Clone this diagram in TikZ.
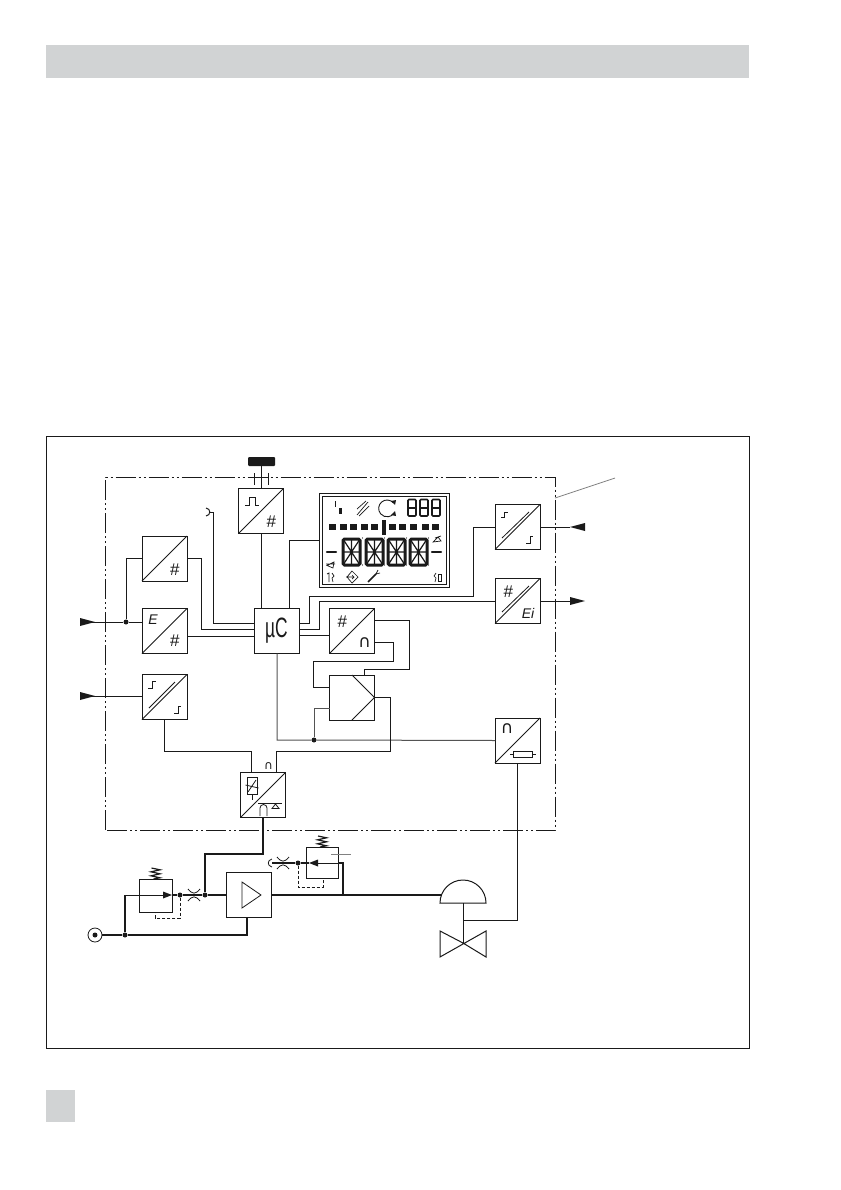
\documentclass[tikz,border=0pt]{standalone}
\usepackage{fontspec}
\setmainfont{Liberation Sans}
\newfontfamily\symf{DejaVu Sans}
\newfontfamily\narrowf[FakeStretch=0.62]{Liberation Sans}
\usetikzlibrary{calc}
\definecolor{band}{HTML}{D1D3D4}
\definecolor{ink}{HTML}{1A1A1A}
\tikzset{
  x=1pt,y=-1pt,
  box/.style={draw=ink,line width=1pt,fill=white,inner sep=0pt,outer sep=0pt,minimum width=45pt,minimum height=45pt},
  wire/.style={draw=ink,line width=1pt},
  greywire/.style={draw=ink!75,line width=1pt},
  thickwire/.style={draw=ink,line width=2.3pt},
  medwire/.style={draw=ink,line width=1.5pt},
  thinl/.style={draw=ink,line width=.8pt},
  pilot/.style={draw=ink,line width=.9pt,dash pattern=on 3pt off 2pt},
  leader/.style={draw=ink!55,line width=.8pt},
  frameline/.style={draw=ink,line width=1pt,dash pattern=on 20pt off 3pt on 2pt off 3pt on 2pt off 3pt},
  junction/.style={circle,fill=ink,inner sep=0pt,minimum size=5pt},
  glyph/.style={inner sep=0pt,text=ink,font=\itshape\fontsize{14}{14}\selectfont},
  hashg/.style={inner sep=0pt,text=ink,font=\itshape\fontsize{17}{17}\selectfont},
  capg/.style={inner sep=0pt,text=ink,font=\symf\fontsize{17}{17}\selectfont},
  tipfill/.style={fill=ink},
  lcdthick/.style={draw=ink,line width=3pt,rounded corners=1.5pt},
  lcdseg/.style={draw=ink,line width=1.2pt},
  lcdicon/.style={draw=ink,line width=.7pt},
  restrictor/.pic={
    \draw[thinl] (-6,-6) .. controls (-1.5,-0.5) and (1.5,-0.5) .. (6,-6);
    \draw[thinl] (-6,6) .. controls (-1.5,0.5) and (1.5,0.5) .. (6,6);
  },
  springzig/.pic={
    \draw[line width=1.2pt,draw=ink] (-2,0) -- (4.5,-1.2) -- (-4.5,-3.2) -- (4.5,-5.2) -- (-4.5,-7.2) -- (4.5,-9.2) -- (-4,-11);
  },
}
\begin{document}
\begin{tikzpicture}
\useasboundingbox (0,0) rectangle (840,1190);
\fill[white] (0,0) rectangle (840,1190);
\fill[band] (46,45) rectangle (749,78);
\fill[band] (46,1090) rectangle (75,1122);
\draw[draw=ink,line width=.9pt] (46.5,436.5) rectangle (749,1048);
\draw[frameline] (105.5,830) -- (105.5,477) -- (555,477) -- (555,830) -- cycle;

% converter boxes
\node[box] (top) at (261,511) {};
\node[box] (boxA) at (164.5,558.5) {};
\node[box] (boxE) at (164.5,631) {};
\node[box] (stepL) at (164.5,697) {};
\node[box] (mu) at (276.5,631) {};
\node[box] (dac) at (352,631) {};
\node[box] (amp) at (352,697.5) {};
\node[box] (stepR) at (517.5,527) {};
\node[box] (ei) at (517.5,601) {};
\node[box] (ip) at (517.5,740.5) {};
\node[box] (relay) at (263,795) {};
\node[box] (big) at (248.5,895) {};
\node[box,minimum width=33pt,minimum height=33pt] (regL) at (155.5,895.5) {};
\node[box,minimum width=32pt,minimum height=31pt] (regR) at (322,862.5) {};
\node[draw=ink,line width=1pt,fill=white,inner sep=0pt,outer sep=0pt,minimum width=130pt,minimum height=94pt] (lcd) at (384,540) {};
\node[draw=ink,line width=1pt,inner sep=0pt,outer sep=0pt,minimum width=124pt,minimum height=88pt] (lcdin) at (384,540) {};

% diagonals
\foreach \b in {top,boxA,boxE,stepL,dac,stepR,ei,ip,relay}
  \draw[wire] (\b.south west) -- (\b.north east);
\draw[thinl] (149,708) -- (175,682);
\draw[thinl] (502,612) -- (529,586);
\draw[thinl] (502,538) -- (529,512);

% labels
\node[hashg] (l1) at (271,522) {\#};
\node[hashg] (l2) at (174.5,570) {\#};
\node[hashg] (l3) at (174.5,641) {\#};
\node[glyph] (l4) at (153,620) {E};
\node[inner sep=0pt,text=ink,font=\narrowf\fontsize{28}{28}\selectfont] (l5) at (276.5,631) {µC};
\node[hashg] (l6) at (342,622) {\#};
\node[capg] (l7) at (364.5,643) {∩};
\node[hashg] (l8) at (508,592) {\#};
\node[glyph] (l9) at (528,613) {Ei};
\node[capg] (l10) at (507,729) {∩};
\node[capg,font=\symf\fontsize{12}{12}\selectfont] (l11) at (268.5,766) {∩};

% symbols in boxes
\draw[thinl] (245,505) -- (249,505) -- (249,497) -- (255,497) -- (255,505) -- (259,505);
\draw[thinl] (148,688) -- (152,688) -- (152,681) -- (156,681);
\draw[thinl] (174,713.5) -- (178,713.5) -- (178,706) -- (181,706);
\draw[thinl] (501,517) -- (504,517) -- (504,512) -- (508,512);
\draw[thinl] (526,543) -- (530,543) -- (530,536) -- (533,536);
\draw[thinl] (513,751) rectangle (532,757);
\draw[thinl] (510,754) -- (513,754) (532,754) -- (536,754);
% amplifier chevrons
\draw[wire] (352,675) -- (amp.east) -- (352,720);
\draw[thinl] (242,882) -- (261,895) -- (242,908) -- cycle;
% relay symbols
\draw[thinl] (247,777) rectangle (257,794);
\draw[thinl] (245.5,785) -- (258.5,788) (248,792) -- (256,780);
\draw[thinl] (252,794) -- (252,800);
\draw[thinl] (258,803) -- (282,803);
\draw[thinl] (260,816) -- (260,808) arc[start angle=180,end angle=360,x radius=3.5,y radius=3.5] -- (267,816);
\draw[thinl] (272,808.5) -- (279,808.5) -- (275.5,804) -- cycle;

% top knob
\fill[ink,rounded corners=1pt] (248,457) rectangle (275,466);
\coordinate (knob) at (261,466);
\draw[wire] (knob) -- (top.north);
\draw[wire] (254,473) -- (254,485) (268,473) -- (268,485);

% wires
\draw[wire] (top.south) -- (mu.north -| top.south);
\draw[wire] (lcd.west |- 0,540.5) -| (289.5,609);
\draw[wire] (210,512) -- (213.5,512) |- (mu.west |- 0,623);
\draw[wire] (206,508) .. controls (211,508.5) and (211,515.5) .. (206,516);
\node[junction] (j1) at (126,622) {};
\coordinate (inA) at (80,622);
\coordinate (inB) at (80,696);
\draw[wire] (inA) -- (j1) -- (boxE.west |- j1);
\draw[wire] (j1) |- (boxA.west);
\draw[wire] (boxA.east) -| (201,629) -- (mu.west |- 0,629);
\draw[wire] (boxE.east |- 0,636) -- (mu.west |- 0,636);
\draw[wire] (inB) -- (stepL.west |- inB);
\fill[tipfill] (80,618) -- (95,622) -- (80,626) -- cycle;
\fill[tipfill] (80,692) -- (95,696) -- (80,700) -- cycle;
\draw[wire] (mu.east |- 0,623) -- (309,623) -- (309,596) -- (473,596) -- (473,527) -- (stepR.west);
\draw[wire] (mu.east |- 0,629) -- (319,629) -- (319,601) -- (ei.west);
\draw[wire] (mu.east |- 0,635) -- (dac.west |- 0,635);
\draw[wire] (dac.east |- 0,620) -- (409,620) -- (409,669) -- (364,669) -- (364,675);
\draw[wire] (dac.east |- 0,642) -- (393,642) -- (393,661) -- (313,661) -- (313,687) -- (amp.west |- 0,687);
\node[junction] (j2) at (314,740) {};
\draw[greywire] (mu.south -| 277,0) -- (277,740) -- (j2) -- (ip.west);
\draw[greywire] (j2) -- (314,708) -- (amp.west |- 0,708);
\draw[wire] (amp.east) -- (390,697.5) -- (390,751) -- (276,751) -- (relay.north -| 276,0);
\draw[wire] (stepL.south) -- (164.5,751) -- (251,751) -- (relay.north -| 251,0);
\draw[wire] (stepR.east) -- (570,527);
\fill[tipfill] (570,527) -- (585,523) -- (585,531) -- cycle;
\draw[wire] (ei.east) -- (570,601);
\fill[tipfill] (570,597) -- (585,601) -- (570,605) -- cycle;
\draw[leader] (555,498) -- (615,478);
\draw[leader] (331,854) -- (351,854);

% pneumatic part
\node[draw=ink,line width=.8pt,circle,minimum size=14pt,inner sep=0pt,fill=white] (sup) at (95,935) {};
\node[junction] (supd) at (95,935) {};
\node[junction] (j3) at (125,935) {};
\node[junction] (j4) at (180,895) {};
\node[junction] (j5) at (205,895) {};
\node[junction] (j6) at (298,863) {};
\coordinate (diaph) at (441,895);
\draw[thickwire] (sup.east) -- (j3) -- (247,935) -- (247,917);
\draw[thickwire] (j3) -- (125,895);
\draw[thinl] (125,895) -- (165,895);
\fill[tipfill] (163,891.5) -- (172,895) -- (163,898.5) -- cycle;
\draw[thickwire] (172,895) -- (j4) -- (j5) -- (big.west);
\draw[thickwire] (relay.south) -- (263,854) -- (205,854);
\draw[medwire] (205,853) -- (j5);
\draw[thickwire] (big.east) -- (diaph);
\draw[thickwire] (343,895) -- (343,863) -- (338,863);
\draw[thinl] (338,863) -- (316,863);
\fill[tipfill] (318,859.5) -- (309,863) -- (318,866.5) -- cycle;
\draw[thickwire] (309,863) -- (j6) -- (272,863);
\draw[pilot] (j4) -- (180,918) -- (155,918) -- (155,912);
\draw[pilot] (j6) -- (298,887) -- (323,887) -- (323,878);
\path (194,895) pic {restrictor};
\path (283,863) pic {restrictor};
\draw[thinl] (272,859) .. controls (267,860) and (267,866) .. (272,867);
\path (155.5,879) pic {springzig};
\path (322,847) pic {springzig};
% actuator and valve
\draw[wire] (440,903) arc[start angle=180,end angle=360,x radius=23,y radius=23] -- cycle;
\draw[wire] (463,903) -- (463,943);
\draw[wire] (ip.south) -- (517.5,920) -- (463,920);
\draw[wire] (463,943) -- (440,931) -- (440,957) -- (486,931) -- (486,957) -- cycle;

% LCD contents
\draw[lcdicon,line width=1pt] (335.5,501) -- (335.5,507);
\fill[ink] (339,508) rectangle (342,514);
\draw[lcdicon] (357,515) -- (368,502) (359,516) -- (369,506) (357,509) -- (366,501);
\draw[lcdicon,line width=.9pt] (393.5,503) arc[start angle=-40,end angle=-320,radius=8.4];
\fill[ink] (391,501) -- (396,500) -- (395,505) -- cycle;
\fill[ink] (391,515) -- (396,516) -- (395,511) -- cycle;
\foreach \x in {408,420,432}{
  \draw[draw=ink,line width=1.6pt,rounded corners=1pt] (\x,499.5) rectangle ++(8,16.5);
  \draw[draw=ink,line width=1.6pt] (\x,507.8) -- ++(8,0);
}
\foreach \x in {329,339.5,350,361,371,388.5,398.5,410,422,432}
  \fill[ink] (\x,524) rectangle ++(7,6);
\fill[ink] (382,520) rectangle (386,535);
\foreach \x in {343,366,388,410}{
  \draw[lcdthick] (\x,539) rectangle ++(17,26);
  \draw[lcdseg] (\x+8.5,539) -- ++(0,26) (\x,552) -- ++(17,0) (\x,539) -- ++(17,26) (\x+17,539) -- ++(-17,26);
}
\foreach \x in {362.5,384.5,406.5,428.5}{
  \fill[ink] (\x,538) circle (.7);
  \fill[ink] (\x,565) circle (.7);
}
\draw[draw=ink,line width=2.2pt,line cap=round] (327,552) -- (336,552);
\draw[draw=ink,line width=2.2pt,line cap=round] (432,552) -- (441,552);
\draw[lcdicon] (327,565.5) -- (334,562) -- (333,568) -- cycle (326,564) -- (335,564);
\draw[lcdicon] (433,542) -- (441,541) -- (438,537) -- cycle (435,538) -- (441,536);
\draw[lcdicon] (327,574) -- (329,573) -- (329,582) (332,573) -- (334,576) -- (332,578) -- (333,582);
\draw[lcdicon] (352,571) -- (358,577) -- (352,583) -- (347,577) -- cycle (346,577) -- (354,577) (352,575) -- (354,577) -- (352,579);
\draw[draw=ink,line width=1.6pt] (368,582) -- (376,574);
\draw[lcdicon] (376,574) -- (378,570) (376,574) -- (380,573);
\draw[lcdicon] (436,573) -- (434,576) -- (436,578) -- (435,582);
\draw[lcdicon] (438,574) rectangle (441,581);
\end{tikzpicture}
\end{document}
